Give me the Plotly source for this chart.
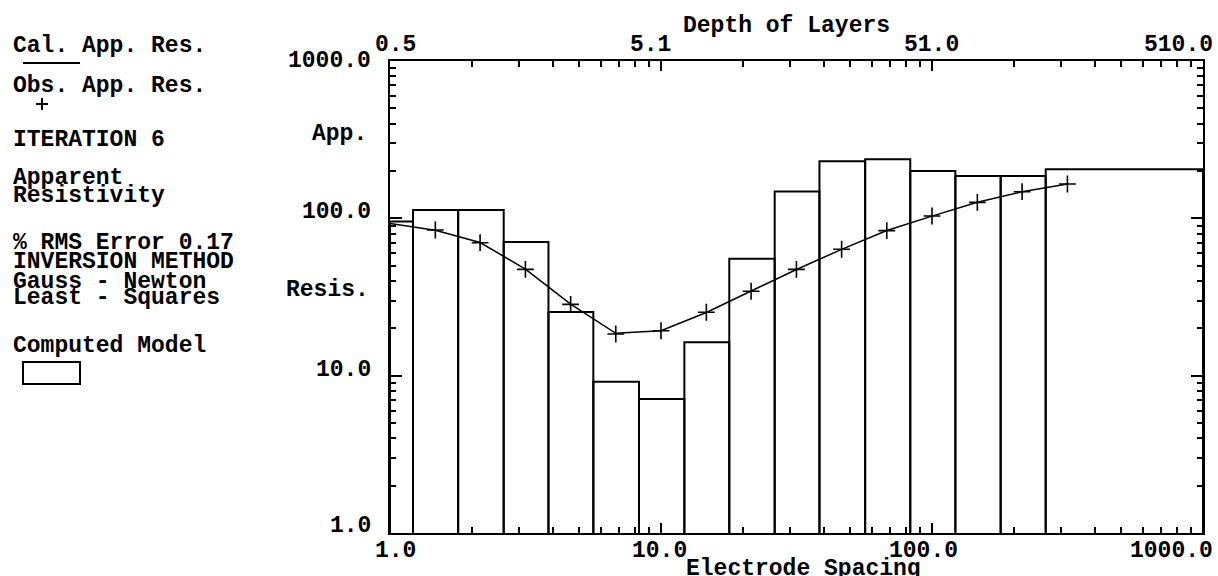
import math
import plotly.graph_objects as go

# ---------------- data ----------------
# observed apparent resistivity (electrode spacing, ohm-m)
spacing_obs = [1.47, 2.15, 3.16, 4.64, 6.81, 10.0, 14.7, 21.5, 31.6, 46.4, 68.1, 100.0, 147.0, 215.0, 316.0]
res_obs = [84.3, 70.0, 47.4, 28.4, 18.4, 19.3, 25.3, 34.4, 47.4, 63.6, 83.5, 103.5, 126.4, 147.7, 165.3]

# calculated apparent resistivity
spacing_cal = [1.0, 1.47, 2.15, 3.16, 4.64, 6.81, 10.0, 14.7, 21.5, 31.6, 46.4, 68.1, 100.0, 147.0, 215.0, 316.0]
res_cal = [92.7, 84.1, 70.2, 47.6, 28.5, 18.6, 19.3, 25.2, 34.5, 47.3, 63.5, 83.6, 103.3, 126.5, 147.5, 165.2]

# computed model: layer boundaries (depth) and layer resistivities
depth_min, depth_max = 0.51, 510.0
layer_boundaries = [0.62, 0.91, 1.34, 1.96, 2.87, 4.23, 6.22, 9.11, 13.4, 19.6, 28.9, 42.4, 62.2, 91.4, 134.0]
layer_res = [95.5, 113, 113, 70.7, 25.4, 9.15, 7.1, 16.3, 55.3, 148, 231, 237, 200, 186, 186, 205]

# axis ticks / labels
x_ticks = [1, 10, 100, 1000]
x_ticktext = ["1.0", "10.0", "100.0", "1000.0"]
depth_ticks = [0.51, 5.1, 51, 510]
depth_ticktext = ["0.5", "5.1", "51.0", "510.0"]
y_ticks = [1, 10, 100, 1000]
y_ticktext = ["1.0", "10.0", "100.0", "1000.0"]

side_lines = ["Cal. App. Res.", "Obs. App. Res.", "ITERATION 6", "Apparent", "Resistivity",
              "% RMS Error 0.17", "INVERSION METHOD", "Gauss - Newton", "Least - Squares",
              "Computed Model"]

# ---------------- layout geometry ----------------
W, H = 1218, 576
ML, MR, MT, MB = 390, 15, 61, 43
PW, PH = W - ML - MR, H - MT - MB
FONT = dict(family="Liberation Mono", size=23, color="black", weight="bold")


def px_x(px):
    return (px - ML) / PW


def px_y(py):
    return (H - MB - py) / PH


# ---------------- traces ----------------
edges = [depth_min] + layer_boundaries + [depth_max]
mx, my = [], []
for i, v in enumerate(layer_res):
    mx += [edges[i], edges[i], edges[i + 1], edges[i + 1], None]
    my += [1, v, v, 1, None]

fig = go.Figure()
fig.add_trace(go.Scatter(x=mx, y=my, xaxis="x2", yaxis="y", mode="lines",
                         line=dict(color="black", width=2), name="Computed Model",
                         hoverinfo="skip"))
fig.add_trace(go.Scatter(x=spacing_cal, y=res_cal, mode="lines",
                         line=dict(color="black", width=1.5), name="Cal. App. Res."))
fig.add_trace(go.Scatter(x=spacing_obs, y=res_obs, mode="markers", name="Obs. App. Res.",
                         marker=dict(symbol="cross-thin", size=12, color="black",
                                     line=dict(width=1.6, color="black"))))


def minor_vals(bases):
    out = []
    for b in bases[:-1]:
        out += [b * k for k in range(2, 10)]
    return out


axis_common = dict(type="log", showgrid=False, zeroline=False, showline=True,
                   linecolor="black", linewidth=2, ticks="inside", tickcolor="black",
                   tickwidth=2, showticklabels=False)

fig.update_layout(
    width=W, height=H, margin=dict(l=ML, r=MR, t=MT, b=MB, pad=0),
    paper_bgcolor="white", plot_bgcolor="white", showlegend=False,
    xaxis=dict(**axis_common, range=[0, 3], tickmode="array", tickvals=x_ticks, ticklen=10,
               minor=dict(tickmode="array", tickvals=minor_vals(x_ticks), ticks="inside",
                          ticklen=6, tickwidth=2, tickcolor="black")),
    xaxis2=dict(**axis_common, overlaying="x", side="top", anchor="y",
                range=[math.log10(depth_min), math.log10(depth_max)],
                tickmode="array", tickvals=depth_ticks, ticklen=10,
                minor=dict(tickmode="array", tickvals=minor_vals(depth_ticks), ticks="inside",
                           ticklen=6, tickwidth=2, tickcolor="black")),
    yaxis=dict(**axis_common, range=[0, 3], mirror="ticks", tickmode="array",
               tickvals=y_ticks, ticklen=12,
               minor=dict(tickmode="array", tickvals=minor_vals(y_ticks), ticks="inside",
                          ticklen=6, tickwidth=2, tickcolor="black")),
)

ann = []
# bottom tick labels
bottom_shift = [5, -2, -9, -32]
for v, t, s in zip(x_ticks, x_ticktext, bottom_shift):
    ann.append(dict(x=math.log10(v), xref="x", y=px_y(551), yref="paper", text=t,
                    xshift=s, xanchor="center", yanchor="middle"))
# top tick labels
top_shift = [5.5, -10.5, -1, -24.5]
for v, t, s in zip(depth_ticks, depth_ticktext, top_shift):
    ann.append(dict(x=math.log10(v), xref="x2", y=px_y(45), yref="paper", text=t,
                    xshift=s, xanchor="center", yanchor="middle"))
# left tick labels
left_shift = [7, 5.5, 6.5, 0]
for v, t, s in zip(y_ticks, y_ticktext, left_shift):
    ann.append(dict(x=px_x(373), xref="paper", y=math.log10(v), yref="y", text=t,
                    yshift=s, xanchor="right", yanchor="middle"))
# axis titles
ann.append(dict(x=px_x(786), xref="paper", y=px_y(26), yref="paper", text="Depth of Layers",
                xanchor="center", yanchor="middle"))
ann.append(dict(x=px_x(803), xref="paper", y=px_y(569), yref="paper", text="Electrode Spacing",
                xanchor="center", yanchor="middle"))
ann.append(dict(x=px_x(369), xref="paper", y=px_y(134), yref="paper", text="App.",
                xanchor="right", yanchor="middle"))
ann.append(dict(x=px_x(371), xref="paper", y=px_y(290), yref="paper", text="Resis.",
                xanchor="right", yanchor="middle"))
# side panel text
side_y = [46, 86, 140, 178, 196, 243, 262, 282, 298, 346]
for t, yy in zip(side_lines, side_y):
    ann.append(dict(x=px_x(11), xref="paper", y=px_y(yy), yref="paper", text=t,
                    xanchor="left", yanchor="middle"))

for a in ann:
    a.setdefault("font", FONT)
    a["showarrow"] = False
fig.update_layout(annotations=ann)

# legend samples: calculated line, observed "+" symbol, model box
legend_style = dict(xref="paper", yref="paper", line=dict(color="black", width=2))
fig.add_shape(type="line", x0=px_x(23), x1=px_x(80), y0=px_y(63), y1=px_y(63), **legend_style)
fig.add_shape(type="line", x0=px_x(36), x1=px_x(48), y0=px_y(104), y1=px_y(104), **legend_style)
fig.add_shape(type="line", x0=px_x(42), x1=px_x(42), y0=px_y(98), y1=px_y(110), **legend_style)
fig.add_shape(type="rect", x0=px_x(23), x1=px_x(80), y0=px_y(384), y1=px_y(362),
              fillcolor="white", **legend_style)

fig.write_html("out.html", config={"displayModeBar": False},
               post_script="document.body.style.margin='0';document.body.style.overflow='hidden';")
